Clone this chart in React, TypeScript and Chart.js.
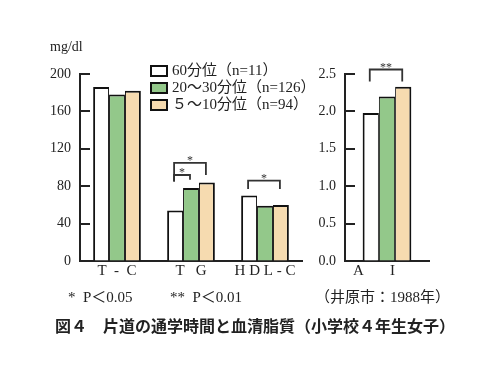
import React, { useEffect, useRef } from "react";
import { Chart, registerables } from "chart.js";
Chart.register(...registerables);

const SERIF = "'Liberation Serif', 'Noto Sans CJK JP', serif";
const SANS = "'Noto Sans CJK JP', sans-serif";

// ---- data ----
const seriesLabels = ["60分位（n=11）", "20～30分位（n=126）", "５～10分位（n=94）"];
const seriesColors = ["#ffffff", "#93c88a", "#f6dbb0"];

const lipidCategories = ["T  -  C", "T   G", "H D L - C"];
const lipid60 = [186, 54, 70];
const lipid2030 = [178, 78, 59];
const lipid510 = [182, 84, 60];
const lipidTicks = [0, 40, 80, 120, 160, 200];

const aiCategories = ["A       I"];
const ai60 = [1.98];
const ai2030 = [2.2];
const ai510 = [2.33];
const aiTicks = [0, 0.5, 1.0, 1.5, 2.0, 2.5];

// significance brackets: category index, dataset from/to, bracket top value, leg bottoms
const lipidSig = [
  { cat: 1, from: 0, to: 1, top: 92, fromLow: 85, toLow: 87, mark: "*" },
  { cat: 1, from: 0, to: 2, top: 105, fromLow: 85, toLow: 92, mark: "*" },
  { cat: 2, from: 0, to: 2, top: 86, fromLow: 77, toLow: 77, mark: "*" },
];
const aiSig = [{ cat: 0, from: 0, to: 2, top: 2.56, fromLow: 2.4, toLow: 2.4, mark: "**" }];

type Sig = { cat: number; from: number; to: number; top: number; fromLow: number; toLow: number; mark: string };

function makePlugin(sig: Sig[]) {
  return {
    id: "decor",
    afterDraw(chart: any) {
      const ctx = chart.ctx;
      const y = chart.scales.y;
      const area = chart.chartArea;
      ctx.save();
      ctx.strokeStyle = "#222";
      ctx.lineWidth = 2;
      y.ticks.forEach((t: any) => {
        const py = Math.round(y.getPixelForValue(t.value));
        ctx.beginPath();
        ctx.moveTo(area.left - 1, py);
        ctx.lineTo(area.left + 10, py);
        ctx.stroke();
      });
      ctx.strokeStyle = "#333";
      ctx.lineWidth = 1.8;
      sig.forEach((s) => {
        const x1 = chart.getDatasetMeta(s.from).data[s.cat].x - 1;
        const x2 = chart.getDatasetMeta(s.to).data[s.cat].x - 1;
        const yt = y.getPixelForValue(s.top);
        const y1 = y.getPixelForValue(s.fromLow);
        const y2 = y.getPixelForValue(s.toLow);
        ctx.beginPath();
        ctx.moveTo(x1, y1);
        ctx.lineTo(x1, yt);
        ctx.lineTo(x2, yt);
        ctx.lineTo(x2, y2);
        ctx.stroke();
        ctx.fillStyle = "#333";
        ctx.font = "12px " + SERIF;
        ctx.textAlign = "center";
        ctx.textBaseline = "middle";
        ctx.fillText(s.mark, (x1 + x2) / 2, yt - 2);
      });
      ctx.restore();
    },
  };
}

function buildChart(
  canvas: HTMLCanvasElement,
  cats: string[],
  vals: number[][],
  ticks: number[],
  fmt: (v: number) => string,
  yWidth: number,
  padRight: number,
  labelOffset: number,
  sig: Sig[]
) {
  const n = vals.length;
  return new Chart(canvas, {
    type: "bar",
    data: {
      labels: cats,
      datasets: vals.map((d, i) => ({
        label: seriesLabels[i],
        data: d,
        backgroundColor: seriesColors[i],
        borderColor: "#111",
        borderWidth: { top: 2, left: i === 0 ? 2 : 1, right: i === n - 1 ? 2 : 1, bottom: 0 },
        borderSkipped: "bottom",
        categoryPercentage: cats.length === 1 ? 0.58 : 0.645,
        barPercentage: 1,
      })),
    },
    options: {
      responsive: false,
      animation: false,
      events: [],
      layout: { padding: { top: 74, right: padRight, left: 0, bottom: 0 } },
      plugins: { legend: { display: false }, tooltip: { enabled: false }, title: { display: false } },
      scales: {
        x: {
          type: "category",
          grid: { display: true, drawOnChartArea: false, drawTicks: false },
          border: { display: true, color: "#222", width: 2 },
          ticks: { color: "#222", font: { family: SERIF, size: 15 }, padding: 1, labelOffset: labelOffset, maxRotation: 0, autoSkip: false },
          afterFit: (s: any) => { s.height = 39; },
        },
        y: {
          min: ticks[0],
          max: ticks[ticks.length - 1],
          grid: { display: true, drawOnChartArea: false, drawTicks: false },
          border: { display: true, color: "#222", width: 2 },
          afterBuildTicks: (s: any) => { s.ticks = ticks.map((v) => ({ value: v })); },
          ticks: { color: "#222", font: { family: SERIF, size: 14 }, padding: 9, callback: (v: any) => fmt(Number(v)) },
          afterFit: (s: any) => { s.width = yWidth; },
        },
      },
    },
    plugins: [makePlugin(sig)],
  } as any);
}

export default function App() {
  const leftRef = useRef<HTMLCanvasElement>(null);
  const rightRef = useRef<HTMLCanvasElement>(null);

  useEffect(() => {
    const c1 = buildChart(leftRef.current!, lipidCategories, [lipid60, lipid2030, lipid510], lipidTicks, (v) => String(v), 80, 8, 0, lipidSig);
    const c2 = buildChart(rightRef.current!, aiCategories, [ai60, ai2030, ai510], aiTicks, (v) => v.toFixed(1), 45, 56, -13, aiSig);
    return () => { c1.destroy(); c2.destroy(); };
  }, []);

  const text: React.CSSProperties = { position: "absolute", fontFamily: SERIF, color: "#222", whiteSpace: "pre", lineHeight: 1 };

  return (
    <div style={{ position: "absolute", left: 0, top: 0, width: 485, height: 387, background: "#fff", overflow: "hidden" }}>
      <canvas ref={leftRef} width={310} height={300} style={{ position: "absolute", left: 0, top: 0 }} />
      <canvas ref={rightRef} width={185} height={300} style={{ position: "absolute", left: 300, top: 0 }} />
      <div style={{ ...text, left: 50, top: 40, fontSize: 14 }}>mg/dl</div>
      {seriesLabels.map((l, i) => (
        <div key={i} style={{ position: "absolute", left: 150, top: 63 + i * 17, display: "flex", alignItems: "center" }}>
          <div style={{ width: 14, height: 8, border: "2px solid #111", background: seriesColors[i] }} />
          <div style={{ ...text, position: "static", fontSize: 15, marginLeft: 4 }}>{l}</div>
        </div>
      ))}
      <div style={{ ...text, left: 68, top: 290, fontSize: 15 }}>{"*  P＜0.05"}</div>
      <div style={{ ...text, left: 170, top: 290, fontSize: 15 }}>{"**  P＜0.01"}</div>
      <div style={{ ...text, left: 315, top: 290, fontSize: 15 }}>{"（井原市：1988年）"}</div>
      <div style={{ ...text, fontFamily: SANS, fontWeight: 700, left: 55, top: 317, fontSize: 16 }}>{"図４　片道の通学時間と血清脂質（小学校４年生女子）"}</div>
    </div>
  );
}
